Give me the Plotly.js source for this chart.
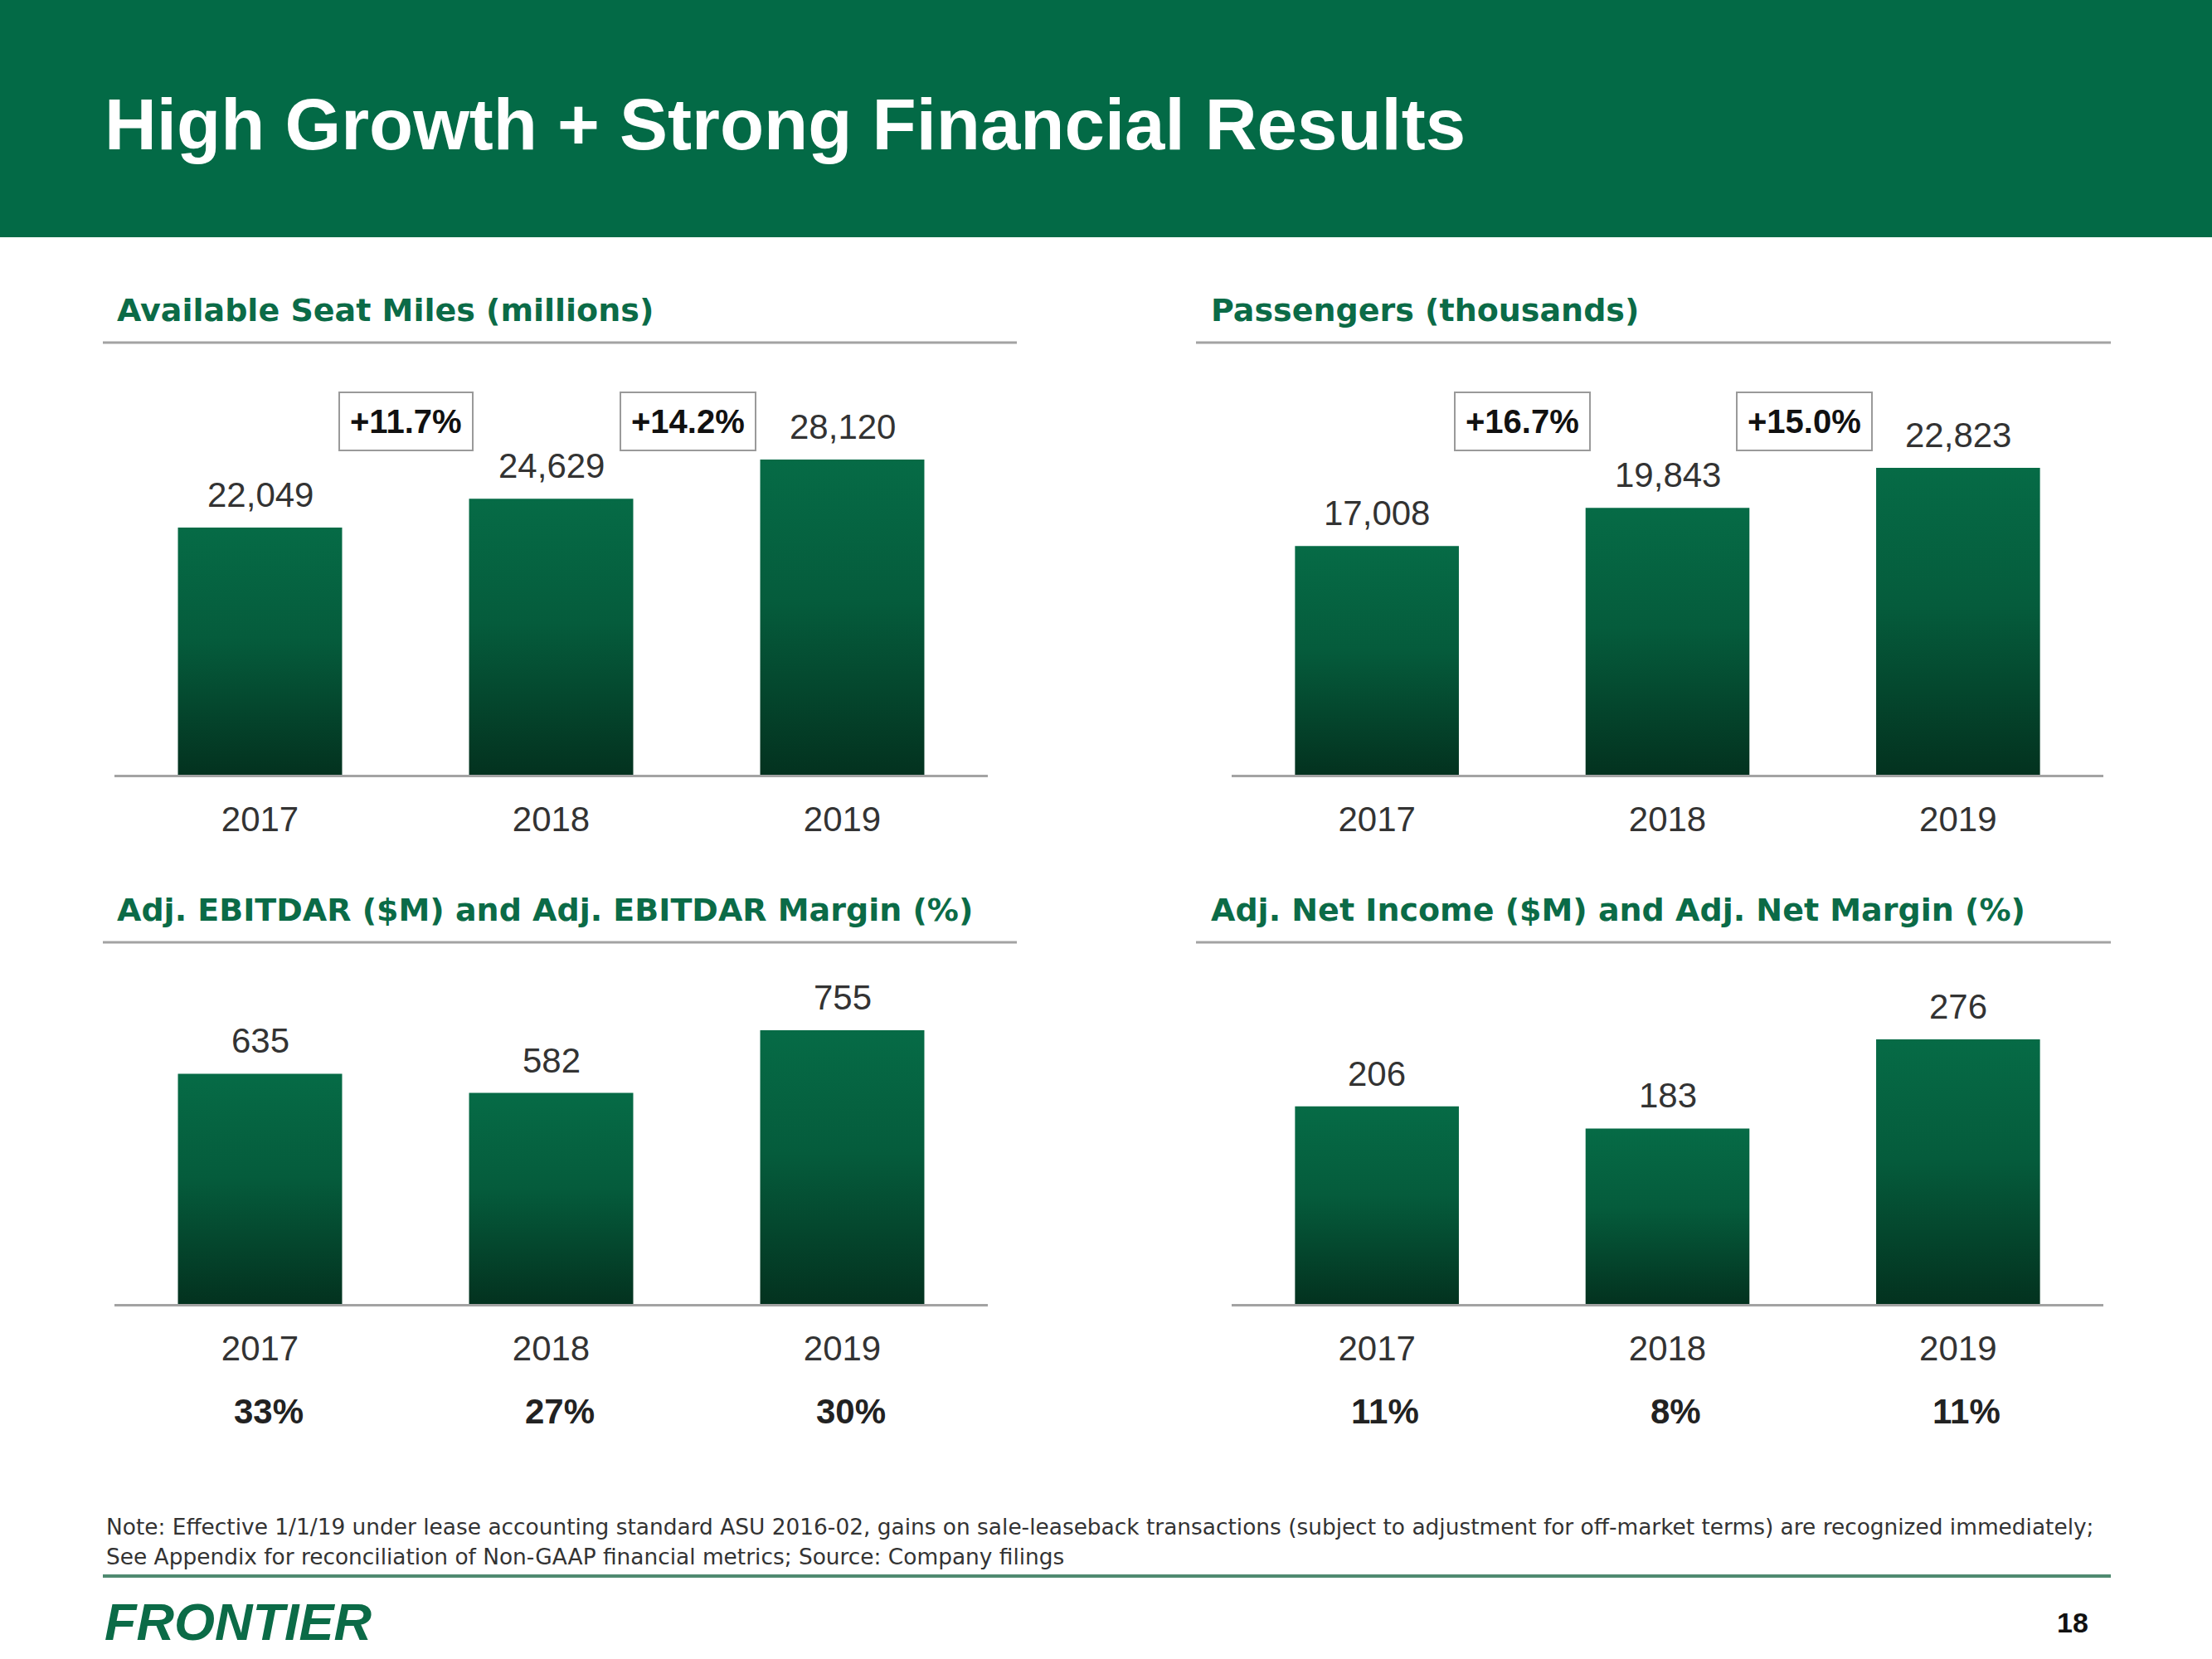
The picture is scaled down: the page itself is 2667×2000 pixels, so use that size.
<!DOCTYPE html>
<html>
<head>
<meta charset="utf-8">
<script src="https://cdn.plot.ly/plotly-3.0.1.min.js"></script>
<style>
html,body{margin:0;padding:0;background:#fff;}
#chart{width:2667px;height:2000px;}
</style>
</head>
<body>
<div id="chart"></div>
<script>
// ---- data ----
const years = ['2017', '2018', '2019'];
const asm = [22049, 24629, 28120];
const asmGrowth = ['+11.7%', '+14.2%'];
const passengers = [17008, 19843, 22823];
const paxGrowth = ['+16.7%', '+15.0%'];
const ebitdar = [635, 582, 755];
const ebitdarMargin = ['33%', '27%', '30%'];
const netIncome = [206, 183, 276];
const netMargin = ['11%', '8%', '11%'];

const panelTitles = [
  'Available Seat Miles (millions)',
  'Passengers (thousands)',
  'Adj. EBITDAR ($M) and Adj. EBITDAR Margin (%)',
  'Adj. Net Income ($M) and Adj. Net Margin (%)'
];
const mainTitle = 'High Growth + Strong Financial Results';
const noteLines = [
  'Note: Effective 1/1/19 under lease accounting standard ASU 2016-02, gains on sale-leaseback transactions (subject to adjustment for off-market terms) are recognized immediately;',
  'See Appendix for reconciliation of Non-GAAP financial metrics; Source: Company filings'
];
const logoText = 'FRONTIER';
const pageNum = '18';

// ---- layout helpers ----
const W = 2667, H = 2000;
const px = v => v / W;
const py = v => 1 - v / H;
const FONT = 'Liberation Sans, Arial, Helvetica, sans-serif';
const WIDE = 'DejaVu Sans, Verdana, sans-serif';
const GREEN = '#036a46';
const TITLE_GREEN = '#0b6b47';
const TXT = '#333333';

const panels = [
  {vals: asm, growth: asmGrowth, margin: null, xa: 'x', ya: 'y', xd: [138, 1191], yd: [934, 450], ymax: 484 / 0.01351, titleX: 139, titleY: 374, lineY: 413, lineX: [124, 1226]},
  {vals: passengers, growth: paxGrowth, margin: null, xa: 'x2', ya: 'y2', xd: [1485, 2536], yd: [934, 450], ymax: 484 / 0.01621, titleX: 1458, titleY: 374, lineY: 413, lineX: [1442, 2545]},
  {vals: ebitdar, growth: null, margin: ebitdarMargin, xa: 'x3', ya: 'y3', xd: [138, 1191], yd: [1572, 1150], ymax: 422 / 0.4371, titleX: 139, titleY: 1097, lineY: 1136, lineX: [124, 1226]},
  {vals: netIncome, growth: null, margin: netMargin, xa: 'x4', ya: 'y4', xd: [1485, 2536], yd: [1572, 1150], ymax: 422 / 1.156, titleX: 1458, titleY: 1097, lineY: 1136, lineX: [1442, 2545]}
];

const data = [];
const annotations = [];
const shapes = [];
const layout = {
  width: W, height: H,
  margin: {l: 0, r: 0, t: 0, b: 0},
  paper_bgcolor: '#ffffff',
  plot_bgcolor: 'rgba(0,0,0,0)',
  showlegend: false,
  bargap: 0.436,
  font: {family: FONT, color: TXT},
  annotations: annotations,
  shapes: shapes
};

// header band
shapes.push({type: 'rect', xref: 'paper', yref: 'paper', x0: 0, x1: 1, y0: py(286), y1: 1, fillcolor: GREEN, line: {width: 0}, layer: 'below'});
annotations.push({xref: 'paper', yref: 'paper', x: px(124), y: py(150), xanchor: 'left', yanchor: 'middle', showarrow: false,
  text: '<b>' + mainTitle + '</b>', font: {family: FONT, size: 87, color: '#ffffff'}});

panels.forEach((p, i) => {
  const n = i === 0 ? '' : String(i + 1);
  layout['xaxis' + n] = {
    domain: [px(p.xd[0]), px(p.xd[1])], anchor: p.ya, type: 'category', range: [-0.5, 2.5],
    showline: true, linecolor: '#a3a3a3', linewidth: 3, showgrid: false, zeroline: false,
    ticks: 'outside', ticklen: 15, tickcolor: 'rgba(0,0,0,0)',
    tickfont: {family: FONT, size: 42, color: TXT}, fixedrange: true
  };
  layout['yaxis' + n] = {
    domain: [py(p.yd[0]), py(p.yd[1])], anchor: p.xa, range: [0, p.ymax], visible: false, fixedrange: true
  };
  data.push({type: 'bar', x: years, y: p.vals, xaxis: p.xa, yaxis: p.ya,
    marker: {color: '#05603d', line: {width: 0}}, hoverinfo: 'none'});
  // value labels
  p.vals.forEach((v, k) => {
    annotations.push({xref: p.xa, yref: p.ya, x: k, y: v, yanchor: 'bottom', yshift: 14, showarrow: false,
      text: v.toLocaleString('en-US'), font: {family: FONT, size: 42, color: TXT}});
  });
  // growth boxes
  if (p.growth) {
    const xs = [0.5, 1.47];
    p.growth.forEach((g, k) => {
      annotations.push({xref: p.xa, yref: 'paper', x: xs[k], y: py(508), xanchor: 'center', yanchor: 'middle', showarrow: false,
        text: '<b>' + g + '</b>', font: {family: FONT, size: 40, color: '#111111'},
        bordercolor: '#9a9a9a', borderwidth: 2, borderpad: 12, bgcolor: '#ffffff'});
    });
  }
  // margin row
  if (p.margin) {
    p.margin.forEach((m, k) => {
      annotations.push({xref: p.xa, yref: 'paper', x: k, y: py(1701), xanchor: 'center', yanchor: 'middle', xshift: 10, showarrow: false,
        text: '<b>' + m + '</b>', font: {family: FONT, size: 42, color: '#222222'}});
    });
  }
  // panel title + underline
  annotations.push({xref: 'paper', yref: 'paper', x: px(p.titleX), y: py(p.titleY), xanchor: 'left', yanchor: 'middle', showarrow: false,
    text: '<b>' + panelTitles[i] + '</b>', font: {family: WIDE, size: 38, color: TITLE_GREEN}});
  shapes.push({type: 'line', xref: 'paper', yref: 'paper', x0: px(p.lineX[0]), x1: px(p.lineX[1]), y0: py(p.lineY), y1: py(p.lineY),
    line: {color: '#a3a3a3', width: 3}});
});

// footnote
noteLines.forEach((t, k) => {
  annotations.push({xref: 'paper', yref: 'paper', x: px(126), y: py(1840 + 36 * k), xanchor: 'left', yanchor: 'middle', showarrow: false,
    text: t, font: {family: WIDE, size: 26.4, color: TXT}});
});
shapes.push({type: 'line', xref: 'paper', yref: 'paper', x0: px(124), x1: px(2545), y0: py(1900), y1: py(1900),
  line: {color: '#4f8a70', width: 4}});
annotations.push({xref: 'paper', yref: 'paper', x: px(124), y: py(1955), xanchor: 'left', yanchor: 'middle', showarrow: false,
  text: '<b><i>' + logoText + '</i></b>', font: {family: FONT, size: 63, color: TITLE_GREEN}});
annotations.push({xref: 'paper', yref: 'paper', x: px(2520), y: py(1956), xanchor: 'right', yanchor: 'middle', showarrow: false,
  text: '<b>' + pageNum + '</b>', font: {family: FONT, size: 34, color: '#111111'}});

const gd = document.getElementById('chart');
Plotly.newPlot(gd, data, layout, {staticPlot: true, displayModeBar: false}).then(() => {
  const svg = gd.querySelector('.main-svg');
  const NS = 'http://www.w3.org/2000/svg';
  let defs = svg.querySelector('defs');
  if (!defs) { defs = document.createElementNS(NS, 'defs'); svg.insertBefore(defs, svg.firstChild); }
  const lg = document.createElementNS(NS, 'linearGradient');
  lg.setAttribute('id', 'barGrad');
  lg.setAttribute('x1', '0'); lg.setAttribute('y1', '0'); lg.setAttribute('x2', '0'); lg.setAttribute('y2', '1');
  [['0', '#066b46'], ['0.45', '#055c3c'], ['1', '#03321f']].forEach(([o, c]) => {
    const s = document.createElementNS(NS, 'stop');
    s.setAttribute('offset', o); s.setAttribute('stop-color', c);
    lg.appendChild(s);
  });
  defs.appendChild(lg);
  gd.querySelectorAll('.bars .point path').forEach(p => { p.style.fill = 'url(#barGrad)'; });
});
</script>
</body>
</html>
